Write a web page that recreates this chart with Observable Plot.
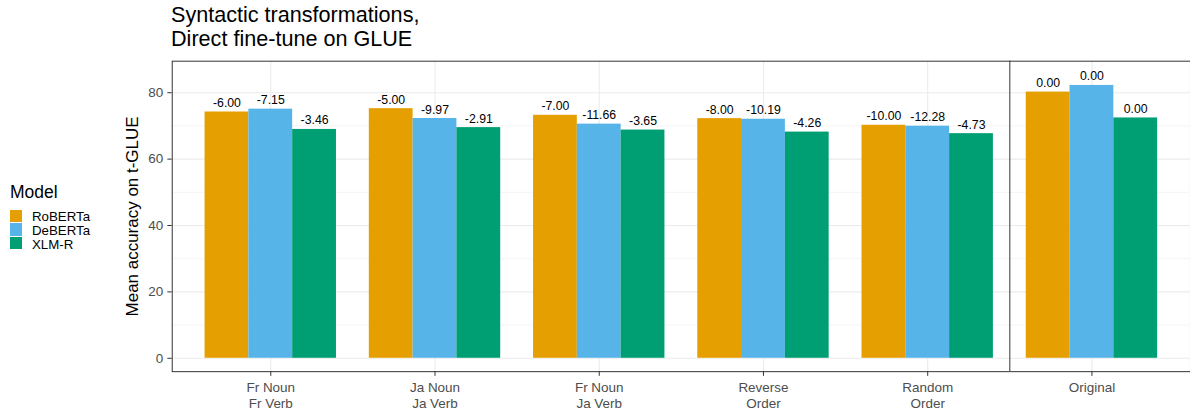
<!DOCTYPE html>
<html><head><meta charset="utf-8">
<script src="https://cdn.jsdelivr.net/npm/d3@7"></script>
<script src="https://cdn.jsdelivr.net/npm/@observablehq/plot@0.6"></script>
<style>
body{margin:0;background:#fff;font-family:"Liberation Sans",Arial,sans-serif;}
#wrap{position:relative;width:1190px;height:412px;overflow:hidden;}
.tl{position:absolute;left:171px;font-size:21.6px;line-height:24.1px;height:24.1px;color:#000;white-space:nowrap;}
#chart{position:absolute;left:0;top:56px;}
.lg{position:absolute;white-space:nowrap;color:#000;}
</style></head><body>
<div id="wrap">
<div id="title"></div>
<div id="chart"></div>
<div id="legend"></div>
</div>
<script>
const titleLines = ["Syntactic transformations,", "Direct fine-tune on GLUE"];
const categories = ["Fr Noun\nFr Verb","Ja Noun\nJa Verb","Fr Noun\nJa Verb","Reverse\nOrder","Random\nOrder","Original"];
const models = ["RoBERTa","DeBERTa","XLM-R"];
const colors = ["#E69F00","#56B4E9","#009E73"];
const robertaValues = [74.2, 75.2, 73.2, 72.2, 70.2, 80.2];
const debertaValues = [75.05, 72.23, 70.54, 72.01, 69.92, 82.2];
const xlmrValues = [68.94, 69.49, 68.75, 68.14, 67.67, 72.4];
const robertaLabels = ["-6.00","-5.00","-7.00","-8.00","-10.00","0.00"];
const debertaLabels = ["-7.15","-9.97","-11.66","-10.19","-12.28","0.00"];
const xlmrLabels = ["-3.46","-2.91","-3.65","-4.26","-4.73","0.00"];
const majorY = [0, 20, 40, 60, 80];
const minorY = [10, 30, 50, 70];
const yLabel = "Mean accuracy on t-GLUE";
const legendTitle = "Model";

const series = [robertaValues, debertaValues, xlmrValues];
const labels = [robertaLabels, debertaLabels, xlmrLabels];
const rows = [];
categories.forEach((c, i) => {
  models.forEach((m, j) => {
    rows.push({i, j, cat: c, model: m, value: series[j][i], label: labels[j][i]});
  });
});
const bw = 0.8 / models.length;
const idx = d3.range(categories.length);
const font = '"Liberation Sans", Arial, sans-serif';

const titleEl = document.getElementById("title");
titleLines.forEach((s, k) => {
  const d = document.createElement("div");
  d.className = "tl";
  d.style.top = (2.8 + k * 24.1) + "px";
  d.textContent = s;
  titleEl.appendChild(d);
});

const chart = Plot.plot({
  width: 1192, height: 356,
  marginLeft: 172, marginRight: 0, marginTop: 4.7, marginBottom: 40.3,
  style: {fontFamily: font, background: "transparent", overflow: "visible"},
  x: {domain: [-0.6, categories.length - 0.4]},
  y: {domain: [-4.03, 89.5]},
  color: {domain: models, range: colors},
  marks: [
    Plot.ruleY(minorY, {stroke: "#EBEBEB", strokeWidth: 0.55}),
    Plot.ruleY(majorY, {stroke: "#EBEBEB", strokeWidth: 1.1}),
    Plot.ruleX(idx, {stroke: "#EBEBEB", strokeWidth: 1.1}),
    Plot.rectY(rows, {
      x1: d => d.i - 0.4 + d.j * bw,
      x2: d => d.i - 0.4 + (d.j + 1) * bw,
      y1: 0, y2: "value", fill: "model"
    }),
    Plot.text(rows, {
      x: d => d.i - 0.4 + (d.j + 0.5) * bw,
      y: "value", text: "label", lineAnchor: "bottom", dy: -5,
      fontSize: 12.3, fill: "#000"
    }),
    Plot.axisY({ticks: majorY, tickSize: 4.4, tickPadding: 4.5, fontSize: 13.5, fill: "#4D4D4D", stroke: "#333", label: null}),
    Plot.axisX({ticks: idx, tickFormat: i => categories[i], tickSize: 4.7, tickPadding: 5, fontSize: 13.5, lineHeight: 1.16, fill: "#4D4D4D", stroke: "#333", label: null}),
    Plot.frame({stroke: "#333", strokeWidth: 1}),
    Plot.ruleX([categories.length - 1.5], {stroke: "#333", strokeWidth: 1}),
    Plot.text([yLabel], {text: d => d, frameAnchor: "left", textAnchor: "middle", rotate: -90, lineAnchor: "top", dx: -46.5, fontSize: 17, fill: "#000"})
  ]
});
document.getElementById("chart").appendChild(chart);

const lg = document.getElementById("legend");
const t = document.createElement("div");
t.className = "lg";
t.style.cssText = "left:10px;top:183.5px;font-size:17.5px;line-height:17.5px;";
t.textContent = legendTitle;
lg.appendChild(t);
models.forEach((m, j) => {
  const top = 209.7 + j * 13.6;
  const k = document.createElement("div");
  k.className = "lg";
  k.style.cssText = `left:10px;top:${top}px;width:12px;height:12.6px;background:${colors[j]};`;
  lg.appendChild(k);
  const l = document.createElement("div");
  l.className = "lg";
  l.style.cssText = `left:32px;top:${top + 0.6}px;font-size:13.3px;line-height:13.6px;`;
  l.textContent = m;
  lg.appendChild(l);
});
</script>
</body></html>
